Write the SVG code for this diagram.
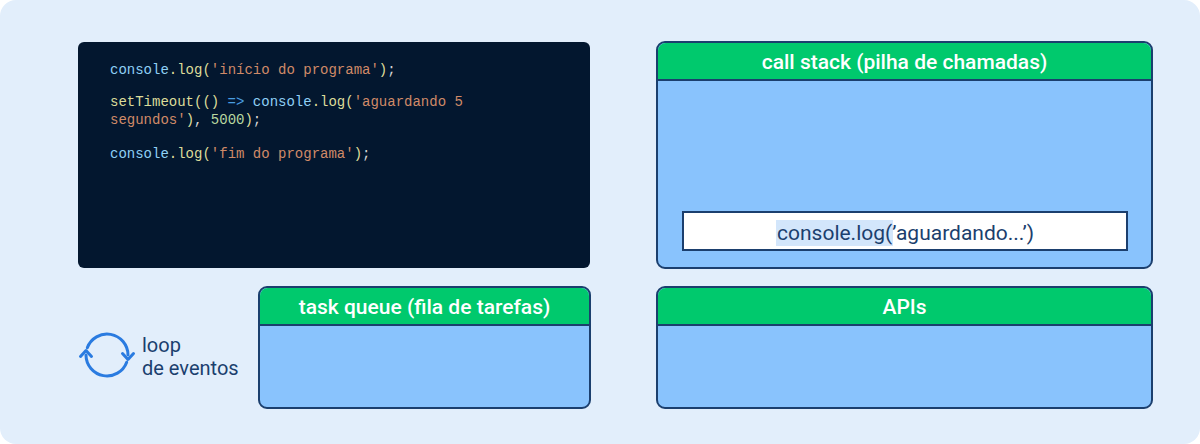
<svg xmlns="http://www.w3.org/2000/svg" width="1200" height="444" viewBox="0 0 1200 444">
<style>
.hdr{font-family:Roboto,"Liberation Sans",sans-serif;font-weight:500;font-size:21px;fill:#ffffff;text-anchor:middle}
.box{fill:#89c3fd;stroke:#1b3f6e;stroke-width:2}
.head{fill:#00c96d}
.sep{stroke:#1b3f6e;stroke-width:2}
.code{font-family:"Liberation Mono","DejaVu Sans Mono",monospace;font-size:14px;fill:#d4d4d4}
.b{fill:#8fd0f5}.y{fill:#dcdc9a}.s{fill:#d08a68}.k{fill:#4a9de0}.n{fill:#b8d8a0}.w{fill:#d4d4d4}
.lbl{font-family:Roboto,"Liberation Sans",sans-serif;font-size:20px;fill:#1b3f6e}
.icon{fill:none;stroke:#2a7be0;stroke-width:3;stroke-linecap:round;stroke-linejoin:round}
</style>
<rect x="0" y="0" width="1200" height="444" fill="#ffffff"/>
<rect x="0" y="0" width="1200" height="444" rx="16" fill="#e2eefb"/>

<g id="code">
<rect x="78" y="42" width="512" height="226" rx="6" fill="#03172f"/>
<text class="code" x="110" y="74"><tspan class="b">console</tspan><tspan class="y">.log(</tspan><tspan class="s">'início do programa'</tspan><tspan class="y">)</tspan><tspan class="w">;</tspan></text>
<text class="code" x="110" y="106"><tspan class="y">setTimeout(()</tspan><tspan class="k"> =&gt; </tspan><tspan class="b">console</tspan><tspan class="y">.log(</tspan><tspan class="s">'aguardando 5</tspan></text>
<text class="code" x="110" y="124"><tspan class="s">segundos'</tspan><tspan class="y">)</tspan><tspan class="w">, </tspan><tspan class="n">5000</tspan><tspan class="y">)</tspan><tspan class="w">;</tspan></text>
<text class="code" x="110" y="158"><tspan class="b">console</tspan><tspan class="y">.log(</tspan><tspan class="s">'fim do programa'</tspan><tspan class="y">)</tspan><tspan class="w">;</tspan></text>
</g>

<g id="callstack">
<rect class="box" x="657" y="42" width="495" height="226" rx="8"/>
<path class="head" d="M666,43 H1143 A8,8 0 0 1 1151,51 V80 H658 V51 A8,8 0 0 1 666,43 Z"/>
<line class="sep" x1="658" y1="80" x2="1151" y2="80"/>
<text class="hdr" x="904.5" y="69">call stack (pilha de chamadas)</text>
<g id="frame">
<rect x="683" y="212" width="444" height="38" fill="#ffffff" stroke="#1b3f6e" stroke-width="2"/>
<rect x="776" y="220" width="117" height="26" fill="#d3e6fb"/>
<text x="777" y="240" font-family="Roboto,'Liberation Sans',sans-serif" font-size="21" fill="#1b3f6e">console.log(’aguardando...’)</text>
</g>
</g>

<g id="taskqueue">
<rect class="box" x="259" y="287" width="331" height="121" rx="8"/>
<path class="head" d="M268,288 H581 A8,8 0 0 1 589,296 V325 H260 V296 A8,8 0 0 1 268,288 Z"/>
<line class="sep" x1="260" y1="325" x2="589" y2="325"/>
<text class="hdr" x="424.5" y="314">task queue (fila de tarefas)</text>
</g>

<g id="apis">
<rect class="box" x="657" y="287" width="495" height="121" rx="8"/>
<path class="head" d="M666,288 H1143 A8,8 0 0 1 1151,296 V325 H658 V296 A8,8 0 0 1 666,288 Z"/>
<line class="sep" x1="658" y1="325" x2="1151" y2="325"/>
<text class="hdr" x="904.5" y="314">APIs</text>
</g>

<g id="loop">
<path class="icon" d="M87.3,347.8 A21,21 0 0 1 128,355"/>
<polyline class="icon" points="122.5,353.5 128,359.5 133.5,353.5"/>
<path class="icon" d="M126.7,362.2 A21,21 0 0 1 86,355"/>
<polyline class="icon" points="80.5,356.5 86,350.5 91.5,356.5"/>
<text class="lbl" x="142" y="352">loop</text>
<text class="lbl" x="142" y="375">de eventos</text>
</g>

<g id="connectors"></g>
</svg>
